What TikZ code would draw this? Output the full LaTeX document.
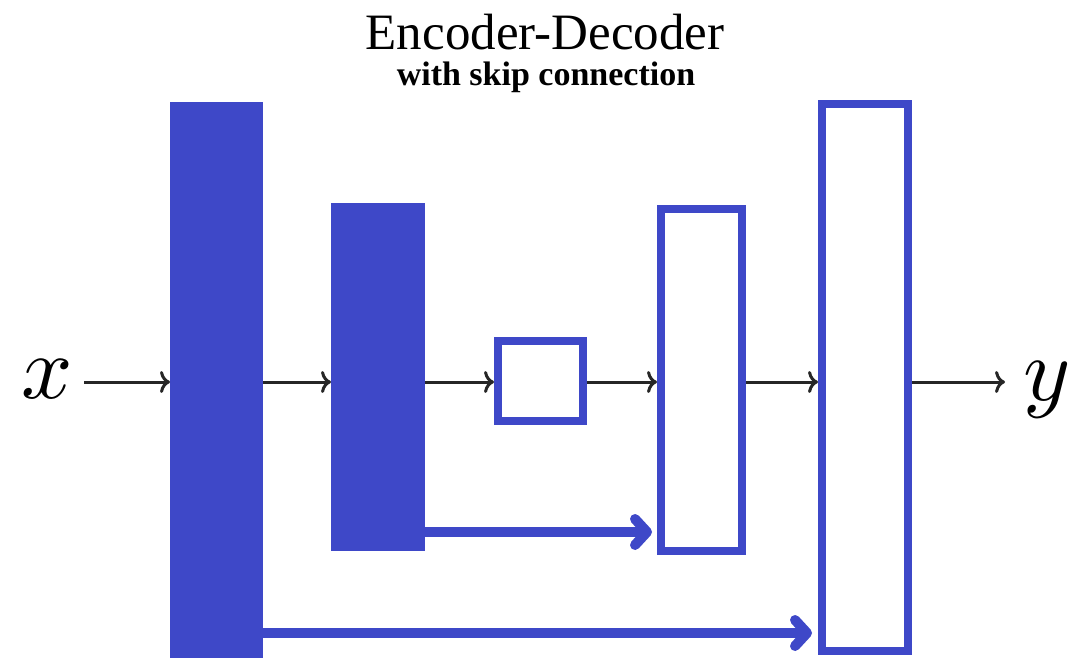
\documentclass[tikz,border=0pt]{standalone}
\usepackage{fontspec}
\setmainfont{Liberation Serif}
\usetikzlibrary{arrows.meta}
\definecolor{netblue}{RGB}{62,72,200}
\begin{document}
\begin{tikzpicture}[x=1pt,y=-1pt,
  filledblock/.style={fill=netblue, draw=none, inner sep=0pt, outer sep=0pt},
  openblock/.style={draw=netblue, line width=8pt, fill=white, inner sep=0pt, outer sep=4pt},
  flow/.style={black!85, line width=3pt, -{Computer Modern Rightarrow[length=10pt,width=22pt]}},
  skiparrow/.style={netblue, line width=10pt, -{Straight Barb[length=12pt,width=26pt,round]}}]
\useasboundingbox (0,0) rectangle (1070,658);
% title
\node[anchor=base, font=\fontsize{51}{51}\selectfont, inner sep=0pt] (title) at (545,50) {Encoder-Decoder};
\node[anchor=base, font=\fontsize{34}{34}\selectfont\bfseries, inner sep=0pt] (subtitle) at (546,86) {with skip connection};
% blocks
\node[filledblock, minimum width=93pt, minimum height=560pt] (b1) at (216.5,382) {};
\node[filledblock, minimum width=94pt, minimum height=348pt] (b2) at (378,377) {};
\node[openblock, minimum width=85pt, minimum height=80pt] (b3) at (540.5,381) {};
\node[openblock, minimum width=81pt, minimum height=342pt] (b4) at (701.5,380) {};
\node[openblock, minimum width=86pt, minimum height=547pt] (b5) at (865,377.5) {};
% input / output
\node[scale=9, inner sep=0pt, anchor=base] (x) at (47,398) {$x$};
\node[scale=9, inner sep=0pt, anchor=base] (y) at (1047,400) {$y$};
\coordinate (row) at (0,382);
\coordinate (xs) at (84,382);
\coordinate (ye) at (1005,382);
% main flow
\draw[flow] (xs) -- (b1.west |- row);
\draw[flow] (b1.east |- row) -- (b2.west |- row);
\draw[flow] (b2.east |- row) -- (b3.west |- row);
\draw[flow] (b3.east |- row) -- (b4.west |- row);
\draw[flow] (b4.east |- row) -- (b5.west |- row);
\draw[flow] (b5.east |- row) -- (ye);
% skip connections
\coordinate (s1) at (0,532);
\coordinate (s2) at (0,633);
\draw[skiparrow, shorten >=5pt] (b2.east |- s1) -- (b4.west |- s1);
\draw[skiparrow, shorten >=6pt] (b1.east |- s2) -- (b5.west |- s2);
\end{tikzpicture}
\end{document}
